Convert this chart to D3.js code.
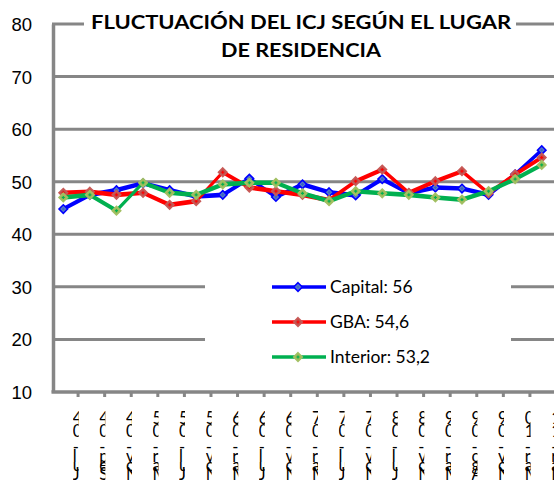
<!DOCTYPE html>
<html>
<head>
<meta charset="utf-8">
<script src="https://cdn.jsdelivr.net/npm/d3@7"></script>
<style>
    body { margin: 0; background: #fff; }
    svg { display: block; font-family: Lato, 'Open Sans', sans-serif; }
</style>
</head>
<body>
<div id="chart"></div>
<script>
const periods = ['Jul-04', 'Sep-04', 'Nov-04', 'Mar-05', 'Jul-05', 'Nov-05', 'Mar-06', 'Jul-06', 'Nov-06',
    'Mar-07', 'Jul-07', 'Nov-07', 'Jul-08', 'Nov-08', 'Mar-09', 'Ago-09', 'Nov-09', 'Mar-10', 'Mar-11'];

const capital  = [44.8, 47.5, 48.4, 49.7, 48.4, 47.2, 47.5, 50.6, 47.1, 49.5, 48.0, 47.4, 50.5, 47.8, 48.9, 48.7, 47.5, 51.4, 56.0];
const gba      = [47.9, 48.1, 47.5, 47.9, 45.6, 46.3, 51.8, 48.9, 48.2, 47.5, 46.5, 50.1, 52.3, 47.9, 50.1, 52.0, 47.8, 51.4, 54.6];
const interior = [47.0, 47.5, 44.5, 49.8, 47.9, 47.5, 49.5, 49.8, 49.8, 47.8, 46.3, 48.2, 47.8, 47.5, 47.0, 46.6, 48.2, 50.5, 53.2];

const yTicks = [10, 20, 30, 40, 50, 60, 70, 80];
const titleLines = ['FLUCTUACIÓN DEL ICJ SEGÚN EL LUGAR', 'DE RESIDENCIA'];

const series = [
    { name: 'Capital: 56',    values: capital,  line: '#0000ff', mFill: '#5b7fc9', mStroke: '#0000ff', mDot: '#3a64c4' },
    { name: 'GBA: 54,6',      values: gba,      line: '#ff0000', mFill: '#c0504d', mStroke: '#c85a57', mDot: '#ff0000' },
    { name: 'Interior: 53,2', values: interior, line: '#00b050', mFill: '#9bbb59', mStroke: '#a3c063', mDot: '#00b050' }
];

const width = 554, height = 489;
const grey = '#868686';

const svg = d3.select('#chart').append('svg')
    .attr('width', width)
    .attr('height', height);

const x = d3.scaleBand().domain(periods).range([50, 555]);
const cx = d => x(d) + x.bandwidth() / 2;
const y = d3.scaleLinear().domain([10, 80]).range([392, 24]);

// gridlines
svg.append('g').selectAll('line')
    .data(yTicks.filter(t => t > 10))
    .join('line')
    .attr('x1', 52).attr('x2', width)
    .attr('y1', d => y(d)).attr('y2', d => y(d))
    .attr('stroke', grey).attr('stroke-width', 3);

// y axis
const yAxis = d3.axisLeft(y).tickValues(yTicks).tickSize(0).tickPadding(21);
const gy = svg.append('g').attr('transform', 'translate(53,0)').call(yAxis);
gy.select('.domain').attr('stroke', grey).attr('stroke-width', 3.5);
gy.selectAll('text').attr('font-size', 18.5).attr('fill', '#000').attr('dy', '0.35em');

// x axis with ticks between categories
svg.append('line')
    .attr('x1', 51.5).attr('x2', width).attr('y1', y(10)).attr('y2', y(10))
    .attr('stroke', grey).attr('stroke-width', 3.5);
svg.append('g').selectAll('line')
    .data(periods.slice(1))
    .join('line')
    .attr('x1', d => x(d) + 1.5).attr('x2', d => x(d) + 1.5)
    .attr('y1', y(10)).attr('y2', y(10) + 5)
    .attr('stroke', grey).attr('stroke-width', 3);

// x labels: stacked glyphs, clipped narrow like the original
const rowOffsets = [26, 39, 55, 64, 73, 82];
const defs = svg.append('defs');
periods.forEach((p, i) => {
    defs.append('clipPath').attr('id', 'clip' + i)
        .append('rect')
        .attr('x', cx(p) + 9.5).attr('y', y(10) + 10)
        .attr('width', 6).attr('height', 100);
});
const labelG = svg.append('g').selectAll('g')
    .data(periods)
    .join('g')
    .attr('clip-path', (d, i) => `url(#clip${i})`);
labelG.selectAll('text')
    .data(d => d.split('').reverse().map((c, j) => ({ c, j, p: d })))
    .join('text')
    .attr('x', d => cx(d.p) + 9.5)
    .attr('y', d => y(10) + rowOffsets[d.j])
    .attr('dy', '0.35em')
    .attr('font-size', 16.5)
    .text(d => d.c);

// series: flat-nib band + thin centre stroke
const band = d3.area()
    .x((d, i) => cx(periods[i]))
    .y0(d => y(d) - 2.3)
    .y1(d => y(d) + 2.3);
const line = d3.line()
    .x((d, i) => cx(periods[i]))
    .y(d => y(d));

const diamond = d3.symbol().type(d3.symbolDiamond2).size(46);

const seriesG = svg.append('g').selectAll('g')
    .data(series)
    .join('g');

seriesG.append('path')
    .attr('d', d => band(d.values))
    .attr('fill', d => d.line);
seriesG.append('path')
    .attr('d', d => line(d.values))
    .attr('fill', 'none')
    .attr('stroke', d => d.line)
    .attr('stroke-width', 1.8);

function drawMarker(g, s, px, py) {
    g.append('path')
        .attr('transform', `translate(${px},${py})`)
        .attr('d', diamond())
        .attr('fill', s.mFill)
        .attr('stroke', s.mStroke)
        .attr('stroke-width', 1.6);
    g.append('path')
        .attr('d', `M${px - 1.5},${py}h3M${px},${py - 1.5}v3`)
        .attr('stroke', s.mDot)
        .attr('stroke-width', 1.2);
}

seriesG.each(function(s) {
    const g = d3.select(this);
    s.values.forEach((v, i) => drawMarker(g, s, cx(periods[i]), y(v)));
});

// title with white backing
svg.append('rect')
    .attr('x', 84).attr('y', 6).attr('width', 432).attr('height', 58)
    .attr('fill', '#fff');
svg.append('g').selectAll('text')
    .data(titleLines)
    .join('text')
    .attr('x', 301)
    .attr('y', (d, i) => 29 + i * 28)
    .attr('text-anchor', 'middle')
    .attr('font-size', 19)
    .attr('font-weight', 'bold')
    .attr('textLength', (d, i) => i === 0 ? 420 : 160)
    .attr('lengthAdjust', 'spacingAndGlyphs')
    .text(d => d);

// legend
const legend = svg.append('g');
legend.append('rect')
    .attr('x', 205).attr('y', 268).attr('width', 306).attr('height', 108)
    .attr('fill', '#fff');
series.forEach((s, i) => {
    const ly = 287 + i * 35;
    legend.append('line')
        .attr('x1', 272).attr('x2', 326).attr('y1', ly).attr('y2', ly)
        .attr('stroke', s.line).attr('stroke-width', 3.5);
    drawMarker(legend, s, 298, ly);
    legend.append('text')
        .attr('x', 330).attr('y', ly)
        .attr('dy', '0.35em')
        .attr('font-size', 17.5)
        .text(s.name);
});
</script>
</body>
</html>
